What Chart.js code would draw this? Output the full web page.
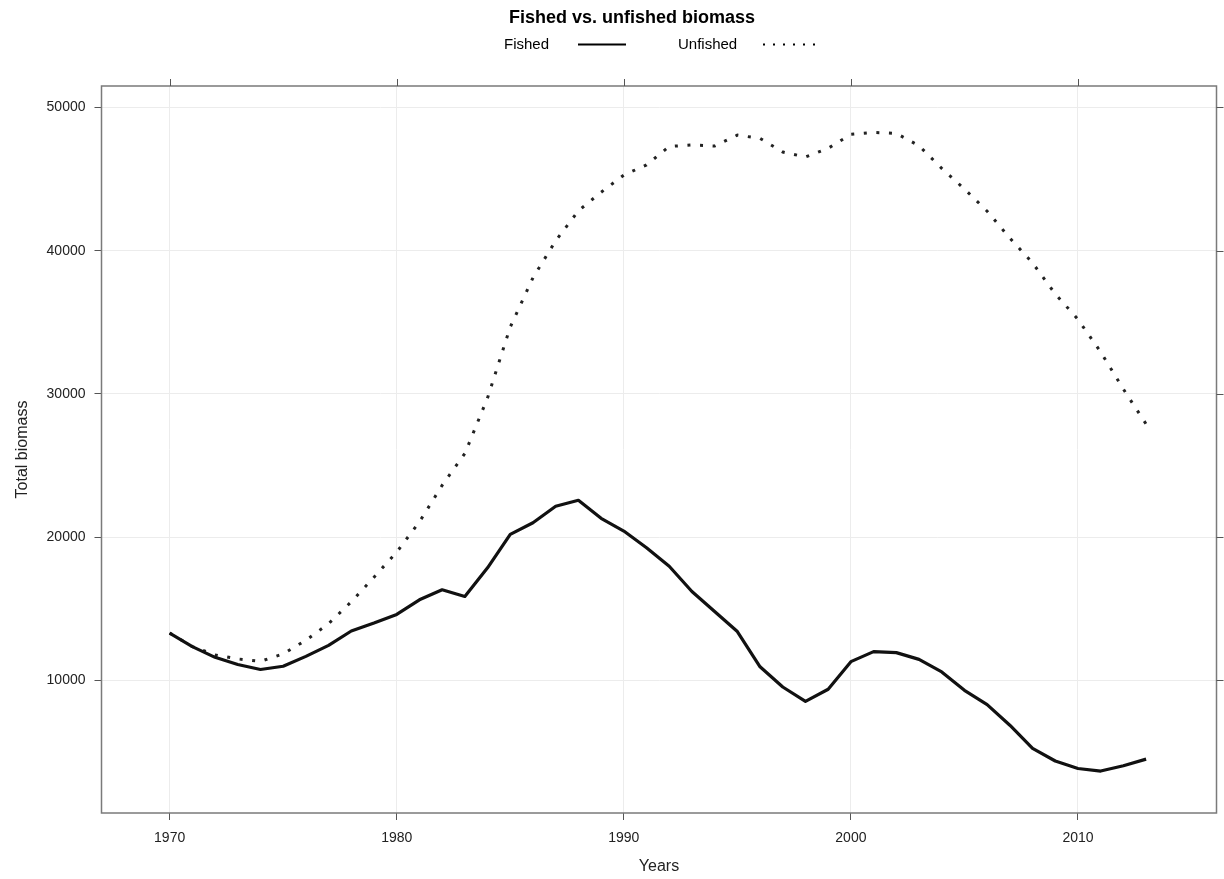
<!DOCTYPE html>
<html>
<head>
<meta charset="utf-8">
<title>Fished vs. unfished biomass</title>
<script src="https://cdn.jsdelivr.net/npm/chart.js@4.4.1/dist/chart.umd.min.js"></script>
<style>
    html, body { margin: 0; padding: 0; background: #fff; }
    #wrap { width: 1224px; height: 879px; }
</style>
</head>
<body>
<div id="wrap"><canvas id="biomassChart" width="1224" height="879"></canvas></div>
<script>
// --- Data ---
const years = [1970, 1971, 1972, 1973, 1974, 1975, 1976, 1977, 1978, 1979,
               1980, 1981, 1982, 1983, 1984, 1985, 1986, 1987, 1988, 1989,
               1990, 1991, 1992, 1993, 1994, 1995, 1996, 1997, 1998, 1999,
               2000, 2001, 2002, 2003, 2004, 2005, 2006, 2007, 2008, 2009,
               2010, 2011, 2012, 2013];
const fished = [13300, 12350, 11600, 11100, 10750, 10980, 11670, 12440, 13440, 14000,
                14600, 15620, 16320, 15850, 17850, 20190, 21000, 22150, 22570, 21310,
                20420, 19250, 17960, 16200, 14800, 13400, 10940, 9530, 8530, 9370,
                11300, 12000, 11930, 11460, 10580, 9300, 8300, 6860, 5240, 4360,
                3840, 3660, 4030, 4490];
const unfished = [13300, 12350, 11770, 11490, 11320, 11840, 12790, 13950, 15480, 17200,
                  18950, 21060, 23610, 25830, 29720, 34670, 38110, 40690, 42780, 44080,
                  45280, 45990, 47280, 47380, 47310, 48070, 47840, 46890, 46540, 47150,
                  48120, 48260, 48190, 47330, 45750, 44310, 42760, 40880, 39140, 36980,
                  35200, 32920, 30330, 27890];
const xTicks = [1970, 1980, 1990, 2000, 2010];
const yTicks = [10000, 20000, 30000, 40000, 50000];

const FONT = "'Liberation Sans', Arial, Helvetica, sans-serif";

function toPoints(values){
    return values.map((v, i) => ({x: years[i], y: v}));
}

// --- Frame, mirrored ticks, title and key ---
const framePlugin = {
    id: 'frame',
    afterDraw(chart){
        const {ctx, chartArea: a, scales: {x, y}} = chart;
        ctx.save();

        // box around the panel
        ctx.strokeStyle = '#7a7a7a';
        ctx.lineWidth = 1.5;
        ctx.strokeRect(a.left, a.top, a.right - a.left, a.bottom - a.top);

        // ticks on top and right edges
        ctx.strokeStyle = '#555';
        ctx.lineWidth = 1;
        xTicks.forEach(v => {
            let px = Math.round(x.getPixelForValue(v)) + 0.5;
            ctx.beginPath();
            ctx.moveTo(px, a.top);
            ctx.lineTo(px, a.top - 7);
            ctx.stroke();
        });
        yTicks.forEach(v => {
            let py = Math.round(y.getPixelForValue(v)) + 0.5;
            ctx.beginPath();
            ctx.moveTo(a.right, py);
            ctx.lineTo(a.right + 7, py);
            ctx.stroke();
        });

        // title
        ctx.fillStyle = '#000';
        ctx.textBaseline = 'middle';
        ctx.textAlign = 'center';
        ctx.font = 'bold 18px ' + FONT;
        ctx.fillText('Fished vs. unfished biomass', 632, 18);

        // key
        ctx.font = '15px ' + FONT;
        ctx.textAlign = 'left';
        ctx.fillText('Fished', 504, 45);
        ctx.fillText('Unfished', 678, 45);

        ctx.strokeStyle = '#000';
        ctx.lineWidth = 2;
        ctx.beginPath();
        ctx.moveTo(578, 44.5);
        ctx.lineTo(626, 44.5);
        ctx.stroke();

        ctx.lineWidth = 2;
        ctx.setLineDash([2, 8]);
        ctx.beginPath();
        ctx.moveTo(763, 44.5);
        ctx.lineTo(822, 44.5);
        ctx.stroke();

        ctx.restore();
    }
};

// --- Chart ---
new Chart(document.getElementById('biomassChart'), {
    type: 'line',
    data: {
        datasets: [
            {
                label: 'Fished',
                data: toPoints(fished),
                borderColor: '#111',
                borderWidth: 3.2,
                borderJoinStyle: 'round',
                pointRadius: 0,
                tension: 0
            },
            {
                label: 'Unfished',
                data: toPoints(unfished),
                borderColor: '#222',
                borderWidth: 3,
                borderDash: [3, 9.6],
                pointRadius: 0,
                tension: 0
            }
        ]
    },
    options: {
        responsive: false,
        animation: false,
        devicePixelRatio: 1,
        layout: { padding: { top: 86, right: 7.5, left: 0, bottom: 0 } },
        plugins: {
            legend: { display: false },
            tooltip: { enabled: false }
        },
        scales: {
            x: {
                type: 'linear',
                min: 1967,
                max: 2016.1,
                afterBuildTicks: s => { s.ticks = xTicks.map(v => ({value: v})); },
                afterFit: s => { s.height = 66; },
                grid: { color: '#ececec', lineWidth: 1, tickLength: 7, tickColor: '#555' },
                border: { display: false },
                ticks: {
                    color: '#222',
                    font: { family: FONT, size: 14 },
                    padding: 10,
                    maxRotation: 0,
                    callback: v => String(v)
                },
                title: {
                    display: true,
                    text: 'Years',
                    color: '#222',
                    font: { family: FONT, size: 16 },
                    padding: { top: 0, bottom: 3 }
                }
            },
            y: {
                type: 'linear',
                min: 730,
                max: 51500,
                afterBuildTicks: s => { s.ticks = yTicks.map(v => ({value: v})); },
                afterFit: s => { s.width = 101.5; },
                grid: { color: '#ececec', lineWidth: 1, tickLength: 7, tickColor: '#555' },
                border: { display: false },
                ticks: {
                    color: '#222',
                    font: { family: FONT, size: 14 },
                    padding: 9,
                    callback: v => String(v)
                },
                title: {
                    display: true,
                    text: 'Total biomass',
                    color: '#222',
                    font: { family: FONT, size: 16 },
                    padding: { top: 13, bottom: 0 }
                }
            }
        }
    },
    plugins: [framePlugin]
});
</script>
</body>
</html>
